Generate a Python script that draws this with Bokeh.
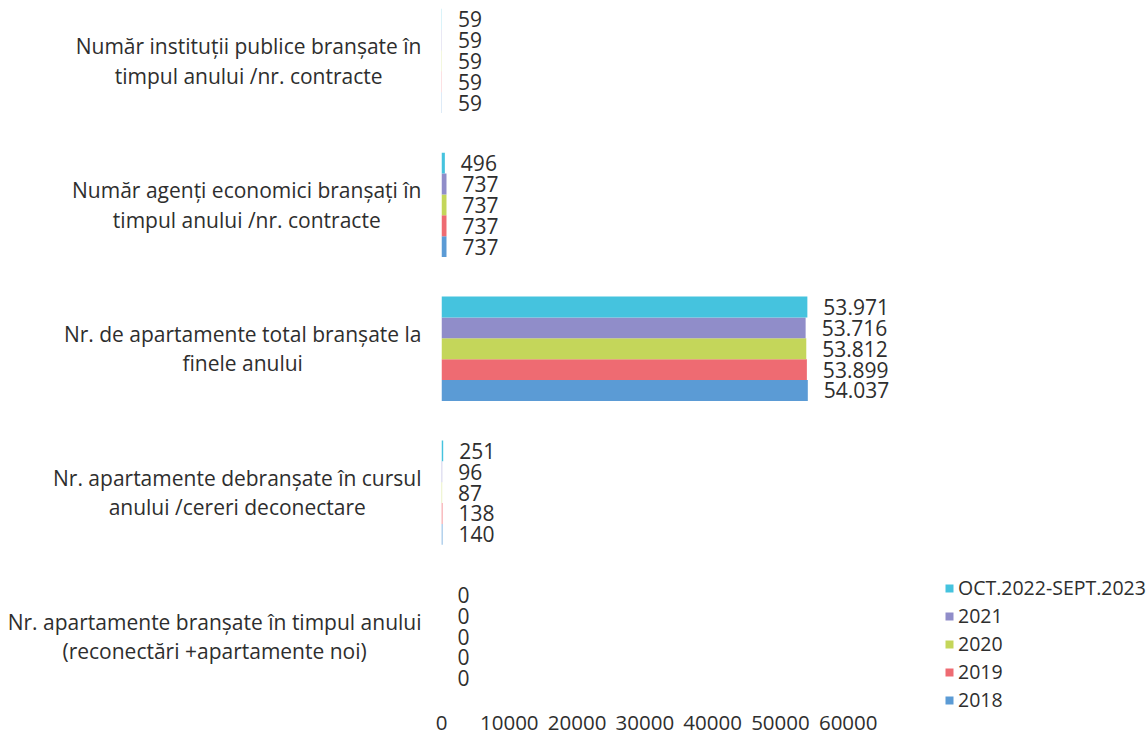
from bokeh.plotting import figure
from bokeh.layouts import row
from bokeh.models import Range1d, FixedTicker, ColumnDataSource, Legend, LegendItem
from bokeh.transform import dodge
from bokeh.core.properties import value
from bokeh.embed import file_html
from bokeh.resources import INLINE

# ---- data (categories listed top to bottom) ----
categories = [
    "Număr instituții publice branșate în\ntimpul anului /nr. contracte",
    "Număr agenți economici branșați în\ntimpul anului /nr. contracte",
    "Nr. de apartamente total branșate la\nfinele anului",
    "Nr. apartamente debranșate în cursul\nanului /cereri deconectare",
    "Nr. apartamente branșate în timpul anului\n(reconectări +apartamente noi)",
]
series_names = ["2018", "2019", "2020", "2021", "OCT.2022-SEPT.2023"]
v2018 = [59, 737, 54037, 140, 0]
v2019 = [59, 737, 53899, 138, 0]
v2020 = [59, 737, 53812, 87, 0]
v2021 = [59, 737, 53716, 96, 0]
v2023 = [59, 496, 53971, 251, 0]
series_values = [v2018, v2019, v2020, v2021, v2023]
x_ticks = [0, 10000, 20000, 30000, 40000, 50000, 60000]

colors = ["#5b9bd5", "#ee6b72", "#c4d65a", "#908dc9", "#45c3de"]
FONT = "Open Sans"
TXT = "#2e2e2e"

n = len(categories)
ypos = [n - 1 - i for i in range(n)]
bh = 0.145

yr = Range1d(-0.535, 4.42)

H = 744
BOTTOM = 31

# ---- main bar figure ----
p = figure(width=715, height=H, output_backend="svg", toolbar_location=None,
           x_range=Range1d(0, 104000), y_range=yr,
           min_border_left=10, min_border_right=0, min_border_top=0, min_border_bottom=BOTTOM)
p.outline_line_color = None
p.xgrid.visible = False
p.ygrid.visible = False
p.yaxis.visible = False
p.xaxis.ticker = FixedTicker(ticks=x_ticks)
p.xaxis.axis_line_color = None
p.xaxis.major_tick_line_color = None
p.xaxis.minor_tick_line_color = None
p.xaxis.major_tick_out = 0
p.xaxis.major_tick_in = 0
p.xaxis.major_label_standoff = 2
p.xaxis.major_label_text_font = FONT
p.xaxis.major_label_text_font_size = "20.5px"
p.xaxis.major_label_text_color = TXT

renderers = []
for j, (name, vals) in enumerate(zip(series_names, series_values)):
    off = (j - 2) * bh
    src = ColumnDataSource(dict(
        y=ypos, v=vals,
        lbl=[f"{v:,}".replace(",", ".") for v in vals],
    ))
    r = p.hbar(y=dodge("y", off), right="v", left=0, height=bh, source=src,
               fill_color=colors[j], line_color=None)
    p.text(x="v", y=dodge("y", off), text="lbl", source=src, x_offset=16,
           text_align="left", text_baseline="middle",
           text_font=value(FONT), text_font_size="21px", text_color=TXT)
    renderers.append(r)

items = [LegendItem(label=series_names[j], renderers=[renderers[j]]) for j in reversed(range(len(series_names)))]
legend = Legend(items=items, location=(503, 0), padding=0, margin=0,
                border_line_color=None, background_fill_alpha=0,
                glyph_width=10, glyph_height=10, label_standoff=4,
                label_height=20, spacing=1,
                label_text_font=FONT, label_text_font_size="19.5px", label_text_color=TXT)
p.add_layout(legend)

# ---- category label figure ----
lf = figure(width=431, height=H, output_backend="svg", toolbar_location=None,
            x_range=Range1d(0, 1), y_range=yr,
            min_border_left=0, min_border_right=0, min_border_top=0, min_border_bottom=BOTTOM)
lf.outline_line_color = None
lf.xaxis.visible = False
lf.yaxis.visible = False
lf.xgrid.visible = False
lf.ygrid.visible = False
lsrc = ColumnDataSource(dict(x=[1] * n, y=ypos, t=categories))
lf.text(x="x", y="y", text="t", source=lsrc, x_offset=-10,
        anchor="center_right", text_align="center", text_baseline="middle",
        text_line_height=1.05,
        text_font=value(FONT), text_font_size="21px", text_color=TXT)

layout = row(lf, p)
open("out.html", "w").write(file_html(layout, INLINE))
